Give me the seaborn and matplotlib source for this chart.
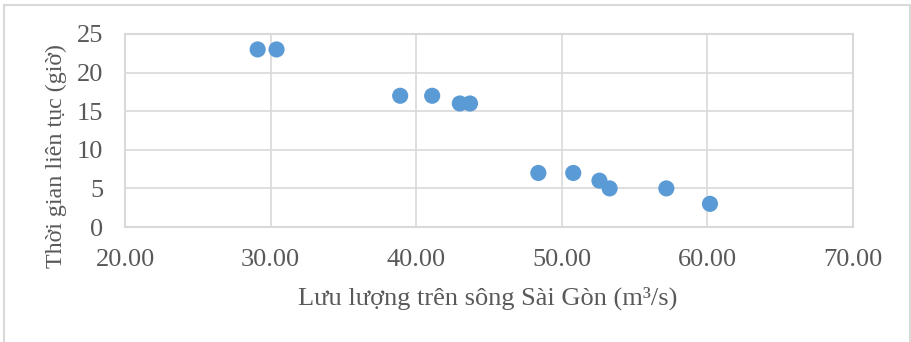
import matplotlib
matplotlib.use("Agg")
import matplotlib.pyplot as plt
from matplotlib.lines import Line2D
import seaborn as sns
import pandas as pd

# Data
flow = [29.1, 30.4, 38.9, 41.1, 43.0, 43.7, 48.4, 50.8, 52.6, 53.3, 57.2, 60.2]
duration = [23, 23, 17, 17, 16, 16, 7, 7, 6, 5, 5, 3]
x_ticks = [20, 30, 40, 50, 60, 70]
y_ticks = [0, 5, 10, 15, 20, 25]
x_label = "Lưu lượng trên sông Sài Gòn (m³/s)"
y_label = "Thời gian liên tục (giờ)"

df = pd.DataFrame({"flow": flow, "duration": duration})

sns.set_theme(style="white")
plt.rcParams["font.family"] = ["Liberation Serif", "DejaVu Serif"]

text_color = "#595959"
grid_color = "#D9D9D9"

fig = plt.figure(figsize=(9.11, 3.42), dpi=100)
ax = fig.add_axes([125.3 / 911, 1 - 227 / 342, (852.5 - 125.3) / 911, (227 - 34) / 342])

sns.scatterplot(data=df, x="flow", y="duration", ax=ax, s=135, color="#5B9BD5",
                edgecolor="none", zorder=3)

ax.set_xlim(20, 70)
ax.set_ylim(0, 25)
ax.set_xticks(x_ticks)
ax.set_xticklabels([f"{v:.2f}" for v in x_ticks])
ax.set_yticks(y_ticks)
ax.set_yticklabels([str(v) for v in y_ticks])
ax.grid(True, color=grid_color, linewidth=1.2)
ax.set_axisbelow(True)
for sp in ax.spines.values():
    sp.set_color(grid_color)
    sp.set_linewidth(1.5)
    sp.set_visible(True)
ax.tick_params(axis="both", length=0, labelsize=19, labelcolor=text_color)
ax.tick_params(axis="x", pad=16)
ax.tick_params(axis="y", pad=16)
ax.set_xlabel("")
ax.set_ylabel("")

fig.text(488 / 911, 1 - 298 / 342, x_label, ha="center", va="center",
         fontsize=19, color=text_color)
fig.text(56 / 911, 1 - 156 / 342, y_label, ha="center", va="center",
         rotation=90, fontsize=17.3, color=text_color)

# outer chart frame (bottom edge lies outside the image)
for xs, ys in [([4 / 911, 910 / 911], [1 - 5 / 342, 1 - 5 / 342]),
               ([4 / 911, 4 / 911], [1 - 5 / 342, -0.05]),
               ([910 / 911, 910 / 911], [1 - 5 / 342, -0.05])]:
    fig.add_artist(Line2D(xs, ys, transform=fig.transFigure, color=grid_color, linewidth=1.5))

fig.savefig("out.png", dpi=100)
